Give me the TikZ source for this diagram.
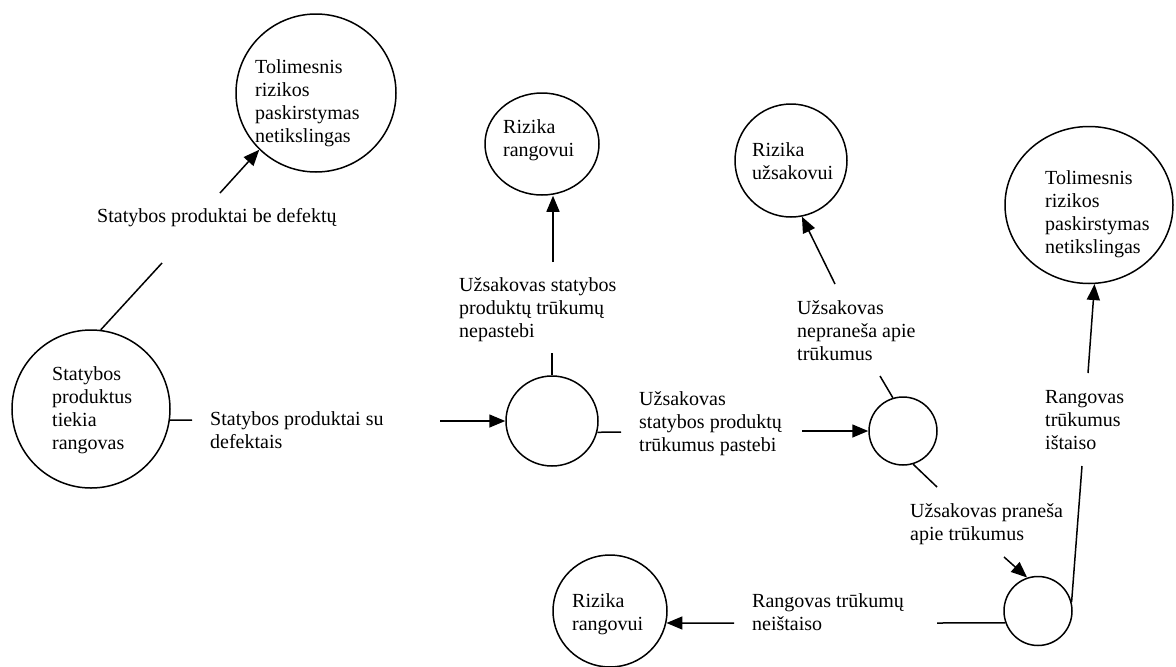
\documentclass[tikz,border=0pt]{standalone}
\usepackage{fontspec}
\setmainfont{Liberation Serif}
\usetikzlibrary{shapes.geometric,arrows.meta}
\begin{document}
\begin{tikzpicture}[x=1pt,y=-1pt,
  ell/.style={draw, ellipse, line width=1.5pt, inner sep=0pt},
  txt/.style={anchor=north west, inner sep=0pt, align=left, font=\fontsize{20}{23}\selectfont},
  con/.style={line width=1.5pt},
  arr/.style={con, -{Triangle[length=16pt,width=13pt]}}]
\useasboundingbox (0,0) rectangle (1176,667);

% circles
\node[ell, minimum width=160pt, minimum height=158pt] (c1) at (316,93) {};
\node[ell, minimum width=158pt, minimum height=158pt] (c2) at (91,409) {};
\node[ell, minimum width=92pt, minimum height=90pt] (c3) at (552,421) {};
\node[ell, minimum width=114pt, minimum height=102pt] (c4) at (542,144) {};
\node[ell, minimum width=68pt, minimum height=68pt] (c5) at (903,431) {};
\node[ell, minimum width=112pt, minimum height=113pt] (c6) at (791,160.5) {};
\node[ell, minimum width=168pt, minimum height=157pt] (c7) at (1089,205) {};
\node[ell, minimum width=68pt, minimum height=69pt] (c8) at (1038,611) {};
\node[ell, minimum width=114pt, minimum height=112pt] (c9) at (610,611) {};

% texts
\node[txt] (t1) at (255,56.9) {\strut Tolimesnis\\\strut rizikos\\\strut paskirstymas\\\strut netikslingas};
\node[txt] (t2) at (97,205.9) {\strut Statybos produktai be defektų};
\node[txt] (t3) at (52,363.9) {\strut Statybos\\\strut produktus\\\strut tiekia\\\strut rangovas};
\node[txt] (t4) at (210,408.9) {\strut Statybos produktai su\\\strut defektais};
\node[txt] (t5) at (503,116.9) {\strut Rizika\\\strut rangovui};
\node[txt] (t6) at (459,274.9) {\strut Užsakovas statybos\\\strut produktų trūkumų\\\strut nepastebi};
\node[txt] (t7) at (639,388.9) {\strut Užsakovas\\\strut statybos produktų\\\strut trūkumus pastebi};
\node[txt] (t8) at (752,139.9) {\strut Rizika\\\strut užsakovui};
\node[txt] (t9) at (797,297.9) {\strut Užsakovas\\\strut nepraneša apie\\\strut trūkumus};
\node[txt] (t10) at (1045,167.9) {\strut Tolimesnis\\\strut rizikos\\\strut paskirstymas\\\strut netikslingas};
\node[txt] (t11) at (1045,386.9) {\strut Rangovas\\\strut trūkumus\\\strut ištaiso};
\node[txt] (t12) at (910,500.9) {\strut Užsakovas praneša\\\strut apie trūkumus};
\node[txt] (t13) at (752,590.9) {\strut Rangovas trūkumų\\\strut neištaiso};
\node[txt] (t14) at (572,590.9) {\strut Rizika\\\strut rangovui};

% free ends of connectors
\coordinate (a1s) at (220,193);
\coordinate (a16e) at (162,263);
\coordinate (a2s) at (192,420);
\coordinate (a3s) at (440,421);
\coordinate (a4e) at (552,353);
\coordinate (a5s) at (553,262);
\coordinate (a6e) at (621,432);
\coordinate (a7s) at (802,431);
\coordinate (a8e) at (880,376);
\coordinate (a9s) at (835,284);
\coordinate (a10e) at (937,487);
\coordinate (a11s) at (1004,557);
\coordinate (a12s) at (937,623);
\coordinate (a13e) at (1082,466);
\coordinate (a14s) at (1088,373);
\coordinate (a15s) at (734,623);

% connectors
\draw[con] (c2.83) -- (a16e);
\draw[arr] (a1s) -- (c1.-135);
\draw[con] (c2.-8) -- (a2s);
\draw[arr] (a3s) -- (c3);
\draw[con] (c3.north) -- (a4e);
\draw[arr] (a5s) -- (a5s |- c4.south);
\draw[con] (c3.-14) -- (a6e);
\draw[arr] (a7s) -- (c5);
\draw[con] (c5.107) -- (a8e);
\draw[arr] (a9s) -- (c6.-79);
\draw[con] (c5.-73) -- (a10e);
\draw[arr] (a11s) -- (c8.108);
\draw[con] (a12s) -- (c8.-160);
\draw[con] (c8.15) -- (a13e);
\draw[arr] (a14s) -- (c7.-86);
\draw[arr] (a15s) -- (c9.-12);
\end{tikzpicture}
\end{document}
